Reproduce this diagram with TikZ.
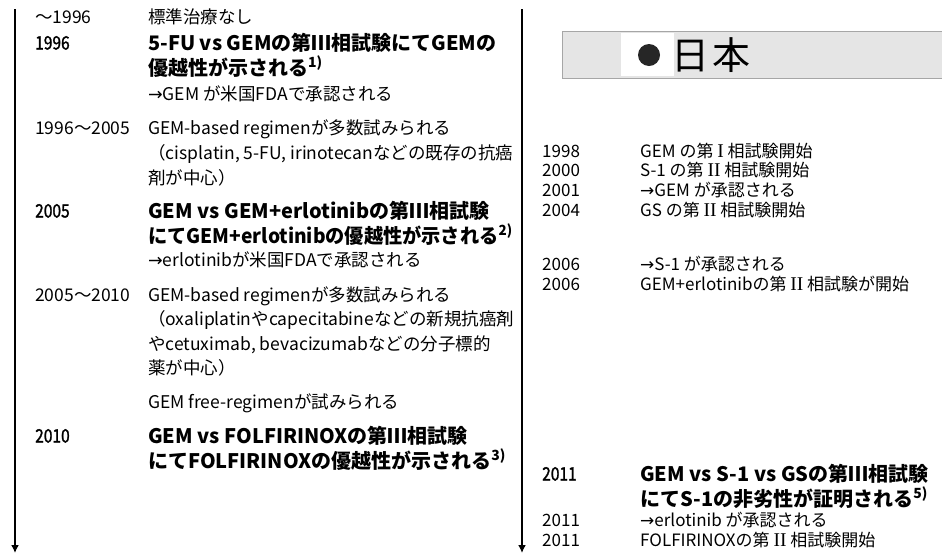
\documentclass[tikz,border=0pt]{standalone}
\usepackage{fontspec}
\setmainfont{Noto Sans CJK JP}
\newfontfamily\arr{DejaVu Sans}
\newfontfamily\romf{Liberation Serif}
\newcommand{\rom}{\romf\fontsize{19.5}{20}\selectfont}
\usetikzlibrary{arrows.meta}
\begin{document}
\begin{tikzpicture}[x=1pt,y=-1pt,
  tl/.style={line width=2.4pt, -{Latex[length=8pt,width=8pt]}},
  yr/.style={anchor=west, inner sep=0pt, font=\fontsize{17}{20}\selectfont, text height=12pt, text depth=3pt},
  yrb/.style={yr, font=\fontsize{18.5}{20}\selectfont\addfontfeature{FakeStretch=0.84,FakeBold=1.4}},
  tx/.style={yr, font=\fontsize{17.5}{20}\selectfont},
  rx/.style={yr},
  bd/.style={anchor=west, inner sep=0pt, font=\fontsize{20}{24}\selectfont\bfseries, text height=15pt, text depth=4pt},
]
\useasboundingbox (0,0) rectangle (942,558);
\clip (0,0) rectangle (942,558);
\fill[white] (0,0) rectangle (942,558);
% timeline arrows
\coordinate (la0) at (15,9); \coordinate (la1) at (15,553);
\coordinate (ra0) at (522,9); \coordinate (ra1) at (522,553);
\draw[tl] (la0) -- (la1);
\draw[tl] (ra0) -- (ra1);
% header box
\fill[gray!20] (562,31) rectangle (950,78);
\fill[white] (621,33) rectangle (674,76);
\draw[gray!70, line width=0.8pt] (562,31) rectangle (950,78);
\node[circle, fill=black!85, minimum size=22pt, inner sep=0pt] (dot) at (649,55) {};
\node[anchor=west, inner sep=0pt, font=\fontsize{38}{40}\selectfont] (jp) at (671,55) {日\hspace{3pt}本};
% left column
\node[tx] (y1) at (35,19) {～1996};
\node[tx] (t1) at (148,19) {標準治療なし};
\node[yrb] (y2) at (35,45) {1996};
\node[bd] (t2a) at (148,45) {5-FU vs GEMの第Ⅲ相試験にてGEMの};
\node[bd] (t2b) at (148,70) {優越性が示される\textsuperscript{1)}};
\node[tx] (t2c) at (148,96) {{\arr →}GEM が米国FDAで承認される};
\node[tx] (y3) at (35,130) {1996～2005};
\node[tx] (t3a) at (148,130) {GEM-based regimenが多数試みられる};
\node[tx] (t3b) at (148,155) {（cisplatin, 5-FU, irinotecanなどの既存の抗癌};
\node[tx] (t3c) at (148,180) {剤が中心）};
\node[yrb] (y4) at (35,213) {2005};
\node[bd] (t4a) at (148,213) {GEM vs GEM+erlotinibの第Ⅲ相試験};
\node[bd, font=\fontsize{20}{24}\selectfont\bfseries\addfontfeature{FakeStretch=0.96}] (t4b) at (148,238) {にてGEM+erlotinibの優越性が示される\textsuperscript{2)}};
\node[tx] (t4c) at (148,262) {{\arr →}erlotinibが米国FDAで承認される};
\node[tx] (y5) at (35,297) {2005～2010};
\node[tx] (t5a) at (148,297) {GEM-based regimenが多数試みられる};
\node[tx] (t5b) at (148,321) {（oxaliplatinやcapecitabineなどの新規抗癌剤};
\node[tx] (t5c) at (148,346) {やcetuximab, bevacizumabなどの分子標的};
\node[tx] (t5d) at (148,370) {薬が中心）};
\node[tx] (t6) at (148,404) {GEM free-regimenが試みられる};
\node[yrb] (y7) at (35,438) {2010};
\node[bd] (t7a) at (148,438) {GEM vs FOLFIRINOXの第Ⅲ相試験};
\node[bd] (t7b) at (148,463) {にてFOLFIRINOXの優越性が示される\textsuperscript{3)}};
% right column
\node[rx] (r1) at (542,153) {1998};
\node[rx] (s1) at (640,153) {GEM の第 {\rom I} 相試験開始};
\node[rx] (r2) at (542,172) {2000};
\node[rx] (s2) at (640,172) {S-1 の第 {\rom II} 相試験開始};
\node[rx] (r3) at (542,192) {2001};
\node[rx] (s3) at (640,192) {{\arr →}GEM が承認される};
\node[rx] (r4) at (542,212) {2004};
\node[rx] (s4) at (640,212) {GS の第 {\rom II} 相試験開始};
\node[rx] (r5) at (542,266) {2006};
\node[rx] (s5) at (640,266) {{\arr →}S-1 が承認される};
\node[rx] (r6) at (542,286) {2006};
\node[rx] (s6) at (640,286) {GEM+erlotinibの第 {\rom II} 相試験が開始};
\node[yrb] (r7) at (542,476) {2011};
\node[bd] (s7a) at (640,476) {GEM vs S-1 vs GSの第Ⅲ相試験};
\node[bd] (s7b) at (640,501) {にてS-1の非劣性が証明される\textsuperscript{5)}};
\node[rx] (r8) at (542,522) {2011};
\node[rx] (s8) at (640,522) {{\arr →}erlotinib が承認される};
\node[rx] (r9) at (542,542) {2011};
\node[rx] (s9) at (640,542) {FOLFIRINOXの第 {\rom II} 相試験開始};
\end{tikzpicture}
\end{document}
